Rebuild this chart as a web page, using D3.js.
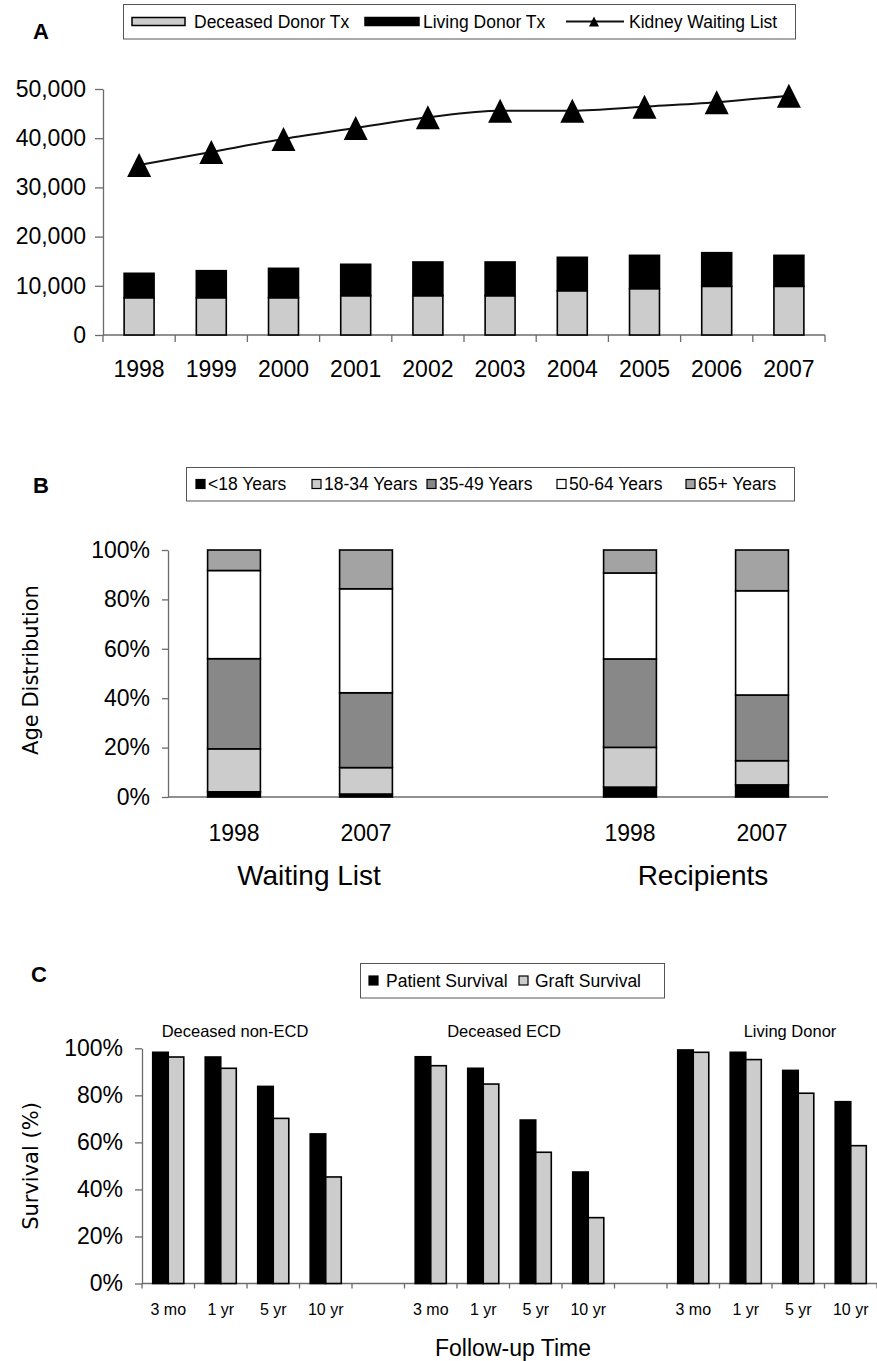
<!DOCTYPE html>
<html><head><meta charset="utf-8">
<script src="https://cdn.jsdelivr.net/npm/d3@7"></script>
<style>
body{margin:0;background:#fff}
svg{display:block;background:#fff}
text{font-family:"Liberation Sans",Arial,Helvetica,sans-serif;fill:#000}
</style>
</head><body>
<svg id="chart" width="877" height="1361"></svg>
<script>
// ---------- Panel A data ----------
const yearsA = ["1998","1999","2000","2001","2002","2003","2004","2005","2006","2007"];
const deceasedTx = [7580,7580,7580,7990,7990,7990,9000,9420,9890,9890];
const livingTx = [4960,5490,5970,6380,6850,6850,6790,6770,6840,6300];
const waitingList = [34550,37200,39840,42070,44250,45590,45590,46410,47300,48640];
const yTicksA = [0,10000,20000,30000,40000,50000];
const legendA = ["Deceased Donor Tx","Living Donor Tx","Kidney Waiting List"];

// ---------- Panel B data ----------
const ageGroups = ["<18 Years","18-34 Years","35-49 Years","50-64 Years","65+ Years"];
const colKeysB = ["wl1998","wl2007","gap","rc1998","rc2007"];
const colLabelsB = ["1998","2007","","1998","2007"];
const groupLabelsB = ["Waiting List","Recipients"];
const under18 = [2.1,1.2,null,4.0,4.9];
const age18_34 = [17.4,10.7,null,16.1,9.8];
const age35_49 = [36.5,30.3,null,35.8,26.6];
const age50_64 = [35.7,42.1,null,34.8,42.2];
const age65plus = [8.3,15.7,null,9.3,16.5];
const yTicksB = [0,20,40,60,80,100];

// ---------- Panel C data ----------
const donorGroups = ["Deceased non-ECD","Deceased ECD","Living Donor"];
const followUp = ["3 mo","1 yr","5 yr","10 yr"];
const patientSurvival = [[98.3,96.3,83.8,63.6],[96.4,91.5,69.5,47.4],[99.3,98.3,90.6,77.3]];
const graftSurvival = [[96.3,91.5,70.2,45.3],[92.6,84.8,55.8,28.0],[98.3,95.2,80.9,58.6]];
const seriesC = ["Patient Survival","Graft Survival"];
const yTicksC = [0,20,40,60,80,100];

// ---------- styles ----------
const AXIS = "#6b6b6b";
const LIGHT = "#cccccc";
const svg = d3.select("#chart");

function styleAxis(g, fs){
  g.select(".domain").attr("stroke",AXIS).attr("stroke-width",1.3);
  g.selectAll(".tick line").attr("stroke",AXIS).attr("stroke-width",1.3);
  g.selectAll(".tick text").attr("font-size",fs).attr("fill","#000")
    .style("font-family",'"Liberation Sans",Arial,sans-serif');
}

// ================= PANEL A =================
svg.append("text").attr("x",33).attr("y",39).attr("font-size",22).attr("font-weight","bold").text("A");

const xA = d3.scaleBand().domain(yearsA).range([103,825]).paddingInner(0.585).paddingOuter(0.2925);
const yA = d3.scaleLinear().domain([0,50000]).range([335,89]);

// legend A
const lgA = svg.append("g");
lgA.append("rect").attr("x",123.5).attr("y",4.5).attr("width",672).attr("height",34.5)
  .attr("fill","#fff").attr("stroke","#555").attr("stroke-width",1);
lgA.append("rect").attr("x",132).attr("y",17.5).attr("width",53).attr("height",8)
  .attr("fill",LIGHT).attr("stroke","#000").attr("stroke-width",1.5);
lgA.append("text").attr("x",194).attr("y",21.5).attr("dy","0.35em").attr("font-size",17.5).text(legendA[0]);
lgA.append("rect").attr("x",365).attr("y",17.5).attr("width",54).attr("height",8)
  .attr("fill","#000").attr("stroke","#000").attr("stroke-width",1.5);
lgA.append("text").attr("x",423).attr("y",21.5).attr("dy","0.35em").attr("font-size",17.5).text(legendA[1]);
lgA.append("line").attr("x1",566).attr("x2",624).attr("y1",21.5).attr("y2",21.5).attr("stroke","#111").attr("stroke-width",2);
const triSym = { draw(ctx,size){ const w=Math.sqrt(size); ctx.moveTo(0,-w/2); ctx.lineTo(w/2,w/2); ctx.lineTo(-w/2,w/2); ctx.closePath(); } };
lgA.append("path").attr("transform","translate(594,21.5)").attr("d",d3.symbol(triSym,100)()).attr("fill","#000");
lgA.append("text").attr("x",629).attr("y",21.5).attr("dy","0.35em").attr("font-size",17.5).text(legendA[2]);

// axes A
const gyA = svg.append("g").attr("transform","translate(103,0)")
  .call(d3.axisLeft(yA).tickValues(yTicksA).tickFormat(d3.format(",")).tickSize(8).tickSizeOuter(0).tickPadding(9));
styleAxis(gyA,23);
const stepA = xA.step();
const [a0,a1] = xA.range();
svg.append("line").attr("x1",a0).attr("x2",a1).attr("y1",yA(0)).attr("y2",yA(0)).attr("stroke",AXIS).attr("stroke-width",1.3);
svg.append("g").selectAll("line").data(d3.range(yearsA.length+1)).join("line")
  .attr("x1",i=>a0+i*stepA).attr("x2",i=>a0+i*stepA).attr("y1",yA(0)).attr("y2",yA(0)+7)
  .attr("stroke",AXIS).attr("stroke-width",1.3);
svg.append("g").selectAll("text").data(yearsA).join("text")
  .attr("x",d=>xA(d)+xA.bandwidth()/2).attr("y",369).attr("dy","0.35em")
  .attr("text-anchor","middle").attr("font-size",23).text(d=>d);

// bars A
const barsA = svg.append("g");
yearsA.forEach((yr,i)=>{
  barsA.append("rect").attr("x",xA(yr)).attr("width",xA.bandwidth())
    .attr("y",yA(deceasedTx[i])).attr("height",yA(0)-yA(deceasedTx[i]))
    .attr("fill",LIGHT).attr("stroke","#000").attr("stroke-width",1.6);
  const top = deceasedTx[i]+livingTx[i];
  barsA.append("rect").attr("x",xA(yr)).attr("width",xA.bandwidth())
    .attr("y",yA(top)).attr("height",yA(deceasedTx[i])-yA(top))
    .attr("fill","#000").attr("stroke","#000").attr("stroke-width",1.6);
});
// waiting list line
const ptsA = yearsA.map((yr,i)=>[xA(yr)+xA.bandwidth()/2, yA(waitingList[i])]);
svg.append("path").attr("d",d3.line().curve(d3.curveMonotoneX)(ptsA))
  .attr("fill","none").attr("stroke","#111").attr("stroke-width",2);
svg.append("g").selectAll("path").data(ptsA).join("path")
  .attr("transform",d=>`translate(${d[0]},${d[1]})`).attr("d",d3.symbol(triSym,24*24)()).attr("fill","#000");

// ================= PANEL B =================
svg.append("text").attr("x",33).attr("y",493).attr("font-size",22).attr("font-weight","bold").text("B");

const colorsB = ["#000000","#cccccc","#888888","#ffffff","#a3a3a3"];
const xB = d3.scaleBand().domain(colKeysB).range([168,828]).paddingInner(0.6).paddingOuter(0.3);
const yB = d3.scaleLinear().domain([0,100]).range([797,550]);

// legend B
const lgB = svg.append("g");
lgB.append("rect").attr("x",186.5).attr("y",467.5).attr("width",608).attr("height",33.5)
  .attr("fill","#fff").attr("stroke","#555").attr("stroke-width",1);
const lgBx = [196,312,427,557,686];
ageGroups.forEach((g,i)=>{
  lgB.append("rect").attr("x",lgBx[i]).attr("y",479.5).attr("width",9).attr("height",9)
    .attr("fill",colorsB[i]).attr("stroke","#000").attr("stroke-width",1.2);
  lgB.append("text").attr("x",lgBx[i]+12).attr("y",484).attr("dy","0.35em").attr("font-size",17.5).text(g);
});

const gyB = svg.append("g").attr("transform","translate(168,0)")
  .call(d3.axisLeft(yB).tickValues(yTicksB).tickFormat(d=>d+"%").tickSize(6).tickSizeOuter(0).tickPadding(12));
styleAxis(gyB,23);
svg.append("line").attr("x1",xB.range()[0]).attr("x2",xB.range()[1]).attr("y1",yB(0)).attr("y2",yB(0))
  .attr("stroke",AXIS).attr("stroke-width",1.3);

const rowsB = colKeysB.map((k,i)=>({key:k, v0:under18[i], v1:age18_34[i], v2:age35_49[i], v3:age50_64[i], v4:age65plus[i]}))
  .filter(r=>r.v0!==null);
const stackB = d3.stack().keys(["v0","v1","v2","v3","v4"])(rowsB);
const barsB = svg.append("g");
stackB.forEach((layer,li)=>{
  barsB.selectAll(null).data(layer).join("rect")
    .attr("x",d=>xB(d.data.key)).attr("width",xB.bandwidth())
    .attr("y",d=>yB(d[1])).attr("height",d=>yB(d[0])-yB(d[1]))
    .attr("fill",colorsB[li]).attr("stroke","#000").attr("stroke-width",1.6);
});
svg.append("g").selectAll("text").data(colKeysB.filter((k,i)=>colLabelsB[i]!=="")).join("text")
  .attr("x",d=>xB(d)+xB.bandwidth()/2).attr("y",833).attr("dy","0.35em").attr("text-anchor","middle")
  .attr("font-size",23).text(d=>colLabelsB[colKeysB.indexOf(d)]);
// group labels
const grpCentersB = [ (xB("wl1998")+xB("wl2007")+xB.bandwidth())/2 + 9, (xB("rc1998")+xB("rc2007")+xB.bandwidth())/2 + 7 ];
svg.append("g").selectAll("text").data(groupLabelsB).join("text")
  .attr("x",(d,i)=>grpCentersB[i]).attr("y",875).attr("dy","0.35em").attr("text-anchor","middle")
  .attr("font-size",28).text(d=>d);
svg.append("text").attr("transform","translate(31,670) rotate(-90)").attr("text-anchor","middle").attr("dy","0.35em")
  .style("font-family",'"DejaVu Sans",Verdana,sans-serif').attr("font-size",21).text("Age Distribution");

// ================= PANEL C =================
svg.append("text").attr("x",31).attr("y",982).attr("font-size",22).attr("font-weight","bold").text("C");

const keysC = [];
donorGroups.forEach((g,gi)=>{
  followUp.forEach(f=>keysC.push(gi+"|"+f));
  if(gi<donorGroups.length-1) keysC.push("gap"+gi);
});
const xC = d3.scaleBand().domain(keysC).range([142,877]).padding(0);
const xCs = d3.scaleBand().domain(seriesC).range([0,xC.bandwidth()]).paddingInner(0).paddingOuter(0.69);
const yC = d3.scaleLinear().domain([0,100]).range([1283.5,1048.3]);

// legend C
const lgC = svg.append("g");
lgC.append("rect").attr("x",360.5).attr("y",963.5).attr("width",304).attr("height",34.5)
  .attr("fill","#fff").attr("stroke","#555").attr("stroke-width",1);
lgC.append("rect").attr("x",369).attr("y",976).attr("width",9).attr("height",9).attr("fill","#000").attr("stroke","#000").attr("stroke-width",1.2);
lgC.append("text").attr("x",386).attr("y",980.5).attr("dy","0.35em").attr("font-size",17.5).text(seriesC[0]);
lgC.append("rect").attr("x",519).attr("y",976).attr("width",9).attr("height",9).attr("fill",LIGHT).attr("stroke","#000").attr("stroke-width",1.2);
lgC.append("text").attr("x",535).attr("y",980.5).attr("dy","0.35em").attr("font-size",17.5).text(seriesC[1]);

// subtitles
const subX = [235,504,790];
svg.append("g").selectAll("text").data(donorGroups).join("text")
  .attr("x",(d,i)=>subX[i]).attr("y",1031).attr("dy","0.35em").attr("text-anchor","middle")
  .attr("font-size",16.5).text(d=>d);

const gyC = svg.append("g").attr("transform","translate(142,0)")
  .call(d3.axisLeft(yC).tickValues(yTicksC).tickFormat(d=>d+"%").tickSize(7).tickSizeOuter(0).tickPadding(12));
styleAxis(gyC,23);
const [c0,c1] = xC.range();
svg.append("line").attr("x1",c0).attr("x2",c1).attr("y1",yC(0)).attr("y2",yC(0)).attr("stroke",AXIS).attr("stroke-width",1.3);
svg.append("g").selectAll("line").data(d3.range(keysC.length+1)).join("line")
  .attr("x1",i=>c0+i*xC.step()).attr("x2",i=>c0+i*xC.step()).attr("y1",yC(0)).attr("y2",yC(0)+5)
  .attr("stroke",AXIS).attr("stroke-width",1.3);

const barsC = svg.append("g");
donorGroups.forEach((g,gi)=>{
  followUp.forEach((f,fi)=>{
    const k = gi+"|"+f;
    [patientSurvival[gi][fi], graftSurvival[gi][fi]].forEach((v,si)=>{
      barsC.append("rect").attr("x",xC(k)+xCs(seriesC[si])).attr("width",xCs.bandwidth())
        .attr("y",yC(v)).attr("height",yC(0)-yC(v))
        .attr("fill",si===0?"#000":LIGHT).attr("stroke","#000").attr("stroke-width",1.6);
    });
    svg.append("text").attr("x",xC(k)+xC.bandwidth()/2).attr("y",1309.5).attr("dy","0.35em")
      .attr("text-anchor","middle").attr("font-size",16).text(f);
  });
});
svg.append("text").attr("x",513).attr("y",1348).attr("dy","0.35em").attr("text-anchor","middle")
  .attr("font-size",23).text("Follow-up Time");
svg.append("text").attr("transform","translate(31,1166) rotate(-90)").attr("text-anchor","middle").attr("dy","0.35em")
  .style("font-family",'"DejaVu Sans",Verdana,sans-serif').attr("font-size",21).text("Survival (%)");
</script>
</body></html>
